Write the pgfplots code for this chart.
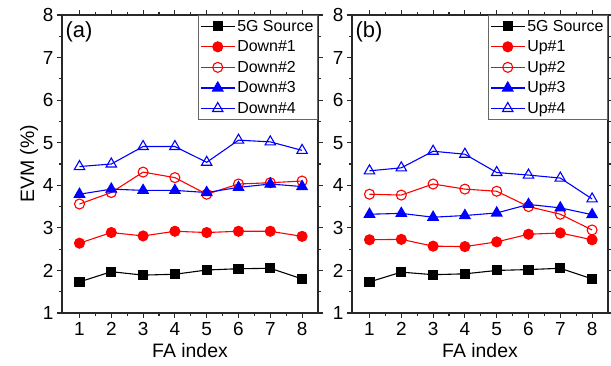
\documentclass[border=0pt]{standalone}
\usepackage{pgfplots}
\pgfplotsset{compat=1.18}
\usepackage{fontspec}
\setmainfont{Liberation Sans}
\definecolor{myred}{RGB}{255,0,0}
\definecolor{myblue}{RGB}{0,0,255}
\definecolor{axgray}{RGB}{40,40,40}
\pgfplotsset{
  evmstyle/.style={
    scale only axis, width=256bp, height=298bp,
    xmin=0.45, xmax=8.5, ymin=1, ymax=8,
    xtick={1,...,8}, ytick={1,...,8},
    minor x tick num=1, minor y tick num=1,
    tick align=outside,
    major tick length=5bp, minor tick length=3bp,
    every tick/.style={axgray, line width=1.1pt},
    axis line style={axgray, line width=1.3pt},
    /pgf/number format/assume math mode=true,
    tick label style={font=\fontsize{19}{21}\selectfont},
    xticklabel style={yshift=-1bp},
    label style={font=\fontsize{19.5}{21}\selectfont},
    xlabel={FA index},
    xlabel style={yshift=-3bp, inner sep=1bp},
    legend cell align=left,
    legend style={at={(rel axis cs:1,1)}, anchor=north east,
      draw=gray!80!black, line width=1pt,
      font=\fontsize{16}{17}\selectfont,
      row sep=4bp, inner sep=1.5bp, inner xsep=2bp, inner ysep=2.5bp},
    legend image code/.code={
      \draw[mark repeat=2,mark phase=2] plot coordinates {(0cm,0cm) (0.6cm,0cm) (1.2cm,0cm)};},
    every axis plot/.append style={line width=1.1pt},
  }
}
\begin{document}
\begin{tikzpicture}
\useasboundingbox (0,0) rectangle (611bp,366bp);
\begin{axis}[evmstyle, at={(62bp,53bp)}, anchor=south west,
  ylabel={EVM (\%)}, ylabel style={yshift=-2bp}]
\addplot[black, mark=square*, mark size=4.5bp] coordinates {(1,1.73) (2,1.97) (3,1.89) (4,1.91) (5,2.01) (6,2.04) (7,2.05) (8,1.80)};
\addlegendentry{5G Source}
\addplot[myred, mark=*, mark size=5bp] coordinates {(1,2.64) (2,2.89) (3,2.81) (4,2.92) (5,2.89) (6,2.92) (7,2.92) (8,2.80)};
\addlegendentry{Down\#1}
\addplot[myred, mark=o, mark size=5bp, mark options={fill=white}] coordinates {(1,3.56) (2,3.83) (3,4.31) (4,4.18) (5,3.79) (6,4.03) (7,4.06) (8,4.10)};
\addlegendentry{Down\#2}
\addplot[myblue, mark=triangle*, mark size=6bp] coordinates {(1,3.79) (2,3.91) (3,3.88) (4,3.88) (5,3.83) (6,3.95) (7,4.03) (8,3.97)};
\addlegendentry{Down\#3}
\addplot[myblue, mark=triangle, mark size=6bp, mark options={fill=white}] coordinates {(1,4.44) (2,4.50) (3,4.91) (4,4.91) (5,4.54) (6,5.06) (7,5.02) (8,4.82)};
\addlegendentry{Down\#4}
\node[anchor=north west, font=\fontsize{22}{24}\selectfont] at (rel axis cs:0.0,0.99) {(a)};
\end{axis}
\begin{axis}[evmstyle, at={(352bp,53bp)}, anchor=south west]
\addplot[black, mark=square*, mark size=4.5bp] coordinates {(1,1.73) (2,1.96) (3,1.90) (4,1.92) (5,2.00) (6,2.02) (7,2.05) (8,1.80)};
\addlegendentry{5G Source}
\addplot[myred, mark=*, mark size=5bp] coordinates {(1,2.72) (2,2.73) (3,2.57) (4,2.56) (5,2.67) (6,2.85) (7,2.88) (8,2.72)};
\addlegendentry{Up\#1}
\addplot[myred, mark=o, mark size=5bp, mark options={fill=white}] coordinates {(1,3.79) (2,3.77) (3,4.03) (4,3.91) (5,3.86) (6,3.50) (7,3.32) (8,2.95)};
\addlegendentry{Up\#2}
\addplot[myblue, mark=triangle*, mark size=6bp] coordinates {(1,3.32) (2,3.34) (3,3.25) (4,3.29) (5,3.35) (6,3.55) (7,3.47) (8,3.31)};
\addlegendentry{Up\#3}
\addplot[myblue, mark=triangle, mark size=6bp, mark options={fill=white}] coordinates {(1,4.34) (2,4.41) (3,4.80) (4,4.73) (5,4.30) (6,4.24) (7,4.17) (8,3.68)};
\addlegendentry{Up\#4}
\node[anchor=north west, font=\fontsize{22}{24}\selectfont] at (rel axis cs:0.0,0.99) {(b)};
\end{axis}
\end{tikzpicture}
\end{document}
